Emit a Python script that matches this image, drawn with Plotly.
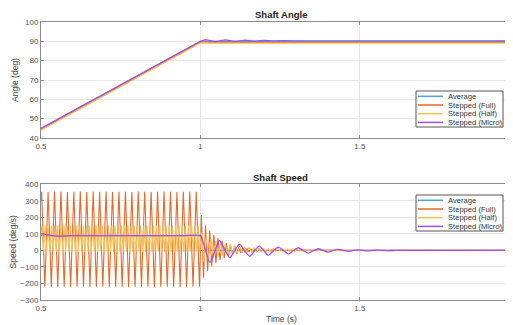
import numpy as np
import plotly.graph_objects as go

# ---------------- data ----------------
series_names = ["Average", "Stepped (Full)", "Stepped (Half)", "Stepped (Micro)"]
x_ticks = [0.5, 1, 1.5]
x_tick_labels = ["0.5", "1", "1.5"]
angle_ticks = [40, 50, 60, 70, 80, 90, 100]
speed_ticks = [-300, -200, -100, 0, 100, 200, 300, 400]

# Shaft angle (deg)
angle_avg_t = [0.5, 1.0, 1.977]
angle_avg_v = [45.0, 90.0, 90.0]
angle_full_t = [0.5, 1.0, 1.01, 1.03, 1.06, 1.1, 1.977]
angle_full_v = [44.5, 89.5, 89.8, 89.4, 89.6, 89.5, 89.5]
angle_half_t = [0.5, 1.0, 1.977]
angle_half_v = [44.0, 89.1, 89.1]
angle_micro_t = [0.5, 1.0, 1.016, 1.047, 1.078, 1.11, 1.14, 1.17, 1.2, 1.23, 1.26, 1.3, 1.977]
angle_micro_v = [44.9, 90.0, 90.9, 89.9, 90.7, 90.0, 90.6, 90.1, 90.45, 90.2, 90.35, 90.3, 90.3]

# Shaft speed (deg/s)
speed_avg_t = [0.5, 1.0, 1.0, 1.977]
speed_avg_v = [90, 90, 0, 0]

# Full step: peaks / troughs (one value every half period)
full_pre_v = [355, -220, 354, -221, 356, -219, 355, -220, 353, -222,
              355, -220, 356, -219, 354, -221, 355, -220, 355, -220,
              356, -221, 354, -219, 355, -220, 355, -222, 353, -220,
              356, -219, 355, -220, 354, -221, 355, -220, 356, -219,
              355, -220, 354, -221, 355, -220, 356, -219, 355, -220]
full_post_v = [214, -165, 150, -125, 120, -95, 95, -75, 75, -58,
               58, -45, 45, -35, 35, -27, 27, -20, 20, -15,
               15, -11, 11, -8, 8, -6, 6, -5, 5, -4,
               4, -3, 3, -3, 3, -2, 2, -2, 2, -1,
               1, -1, 1, 0]

# Half step
half_pre_v = [150, -8, 152, -10, 149, -9, 151, -8, 150, -10,
              152, -9, 150, -8, 149, -10, 151, -9, 150, -8,
              151, -10, 150, -9, 152, -8, 149, -10, 150, -9,
              151, -8, 150, -10, 152, -9, 149, -8, 150, -10,
              151, -9, 150, -8, 152, -10, 149, -9, 150, -8,
              151, -10, 150, -9, 152, -8, 149, -10, 150, -9,
              151, -8, 150, -10, 152, -9, 149, -8, 150, -10,
              151, -9, 150, -8, 152, -10, 149, -9, 150, -8,
              151, -10, 150, -9, 152, -8, 149, -10, 150, -9,
              151, -8, 150, -10, 152, -9, 149, -8, 150, -10]
half_post_v = [110, -70, 85, -55, 70, -45, 58, -38, 48, -32,
               40, -27, 34, -23, 29, -20, 25, -17, 22, -15,
               19, -13, 17, -11, 15, -10, 13, -9, 12, -8,
               11, -7, 10, -6, 9, -6, 8, -5, 7, -5,
               6, -4, 6, -4, 5, -3, 5, -3, 4, -3,
               4, -2, 3, -2, 3, -2, 2, -1, 2, -1]

# Micro step
speed_micro_t = [0.5, 0.51, 0.52, 0.535, 0.55, 0.565, 0.58, 0.6, 0.65, 0.7, 0.75, 0.8,
                 0.85, 0.9, 0.95, 1.0, 1.004, 1.015, 1.03, 1.045, 1.06, 1.076, 1.092,
                 1.107, 1.122, 1.138, 1.155, 1.17, 1.184, 1.198, 1.213, 1.228, 1.244,
                 1.26, 1.276, 1.291, 1.307, 1.322, 1.338, 1.354, 1.37, 1.385, 1.40,
                 1.415, 1.43, 1.447, 1.464, 1.48, 1.495, 1.51, 1.526, 1.541, 1.557,
                 1.573, 1.59, 1.61, 1.65, 1.977]
speed_micro_v = [100, 98, 94, 89, 86, 86, 88, 89, 90, 90, 90, 90,
                 90, 90, 90, 90, 75, 5, -72, -5, 60, 5, -44,
                 -3, 38, 0, -36, -2, 28, 0, -30, -3, 20,
                 -1, -22, -2, 16, 0, -16, -2, 10, 0, -10,
                 -1, 6, 0, -6, 0, 3, 0, -3, 0, 2,
                 0, -1, 0, 0, 0]

# time grids for the step-rate oscillations
full_pre_t = 0.502 + 0.0101 * np.arange(len(full_pre_v))
full_post_t = 1.003 + 0.0065 * np.arange(len(full_post_v))
speed_full_t = np.concatenate([[0.5], full_pre_t, full_post_t, [1.977]])
speed_full_v = [300] + full_pre_v + full_post_v + [0]
half_pre_t = 0.5025 + 0.005 * np.arange(len(half_pre_v))
half_post_t = 1.003 + 0.0075 * np.arange(len(half_post_v))
speed_half_t = np.concatenate([[0.5], half_pre_t, half_post_t, [1.977]])
speed_half_v = [100] + half_pre_v + half_post_v + [0]

colors = ["#4DA3DF", "#E8692A", "#F3C256", "#A64CF0"]

# ---------------- figure ----------------
# the page has an 8px body margin, so the figure is 8px smaller and positions are shifted
OFF = 8
W, H = 505, 317
L, R, T, B = 33, 1, 14, 25
pw, ph = W - L - R, H - T - B


def px(x):  # page pixel -> paper x
    return (x - OFF - L) / pw


def py(y):  # page pixel -> paper y
    return (H - B - (y - OFF)) / ph


fig = go.Figure()

angle_data = [(angle_avg_t, angle_avg_v), (angle_full_t, angle_full_v),
              (angle_half_t, angle_half_v), (angle_micro_t, angle_micro_v)]
speed_data = [(speed_avg_t, speed_avg_v), (speed_full_t, speed_full_v),
              (speed_half_t, speed_half_v), (speed_micro_t, speed_micro_v)]

for i, (t, v) in enumerate(angle_data):
    fig.add_trace(go.Scatter(x=t, y=v, mode="lines", name=series_names[i],
                             line=dict(color=colors[i], width=1.2),
                             xaxis="x2", yaxis="y2", showlegend=False))
for i, (t, v) in enumerate(speed_data):
    shape = "spline" if i == 3 else "linear"
    fig.add_trace(go.Scatter(x=t, y=v, mode="lines", name=series_names[i],
                             line=dict(color=colors[i], width=1.1 if i in (1, 2) else 1.3,
                                       shape=shape, smoothing=0.6 if i == 3 else None),
                             xaxis="x", yaxis="y", showlegend=False))

axis_common = dict(showgrid=True, gridcolor="#E6E6E6", gridwidth=1, showline=True,
                   linecolor="#8C8C8C", linewidth=1, mirror="allticks", ticks="inside",
                   ticklen=3, tickcolor="#8C8C8C",
                   tickfont=dict(size=8, color="#555555", family="Liberation Sans, Arial"),
                   zeroline=False)

y_top_dom = [py(138), py(21.7)]
y_bot_dom = [py(300), py(184.3)]

fig.update_layout(
    width=W, height=H, margin=dict(l=L, r=R, t=T, b=B),
    paper_bgcolor="white", plot_bgcolor="white",
    xaxis=dict(domain=[0, 1], anchor="y", range=[0.5, 1.977], tickvals=x_ticks,
               ticktext=x_tick_labels, **axis_common),
    yaxis=dict(domain=[max(0, y_bot_dom[0]), y_bot_dom[1]], anchor="x", range=[-300, 400],
               tickvals=speed_ticks, **axis_common),
    xaxis2=dict(domain=[0, 1], anchor="y2", range=[0.5, 1.977], tickvals=x_ticks,
                ticktext=x_tick_labels, **axis_common),
    yaxis2=dict(domain=[y_top_dom[0], min(1, y_top_dom[1])], anchor="x2", range=[40, 100],
                tickvals=angle_ticks, **axis_common),
    showlegend=False,
)

font_txt = "Liberation Sans, Arial"
ann = []
ann.append(dict(x=px(281), y=py(15), text="<b>Shaft Angle</b>", showarrow=False,
                font=dict(size=9.5, color="#222222", family=font_txt)))
ann.append(dict(x=px(280.5), y=py(177.5), text="<b>Shaft Speed</b>", showarrow=False,
                font=dict(size=9.5, color="#222222", family=font_txt)))
ann.append(dict(x=px(281.5), y=py(318.5), text="Time (s)", showarrow=False,
                font=dict(size=8.5, color="#444444", family=font_txt)))
ann.append(dict(x=px(15), y=py(80), text="Angle (deg)", showarrow=False, textangle=-90,
                font=dict(size=8.5, color="#444444", family=font_txt)))
ann.append(dict(x=px(12.5), y=py(242), text="Speed (deg/s)", showarrow=False, textangle=-90,
                font=dict(size=8.5, color="#444444", family=font_txt)))
for a in ann:
    a["xanchor"] = "center"
    a["yanchor"] = "middle"

shapes = []
for (y0, y1) in [(91, 127), (195, 231)]:
    shapes.append(dict(type="rect", xref="paper", yref="paper", x0=px(416), x1=px(503),
                       y0=py(y1), y1=py(y0), fillcolor="white",
                       line=dict(color="#555555", width=1), layer="above"))
    for k in range(4):
        ry = y0 + 5.3 + 8.7 * k
        shapes.append(dict(type="line", xref="paper", yref="paper", x0=px(418), x1=px(443),
                           y0=py(ry), y1=py(ry), line=dict(color=colors[k], width=1.5),
                           layer="above"))
        ann.append(dict(x=px(445.5), y=py(ry), xanchor="left", yanchor="middle",
                        text=series_names[k], showarrow=False,
                        font=dict(size=7.6, color="#333333", family=font_txt)))

fig.update_layout(annotations=[dict(xref="paper", yref="paper", **a) for a in ann],
                  shapes=shapes)

fig.write_html("out.html")
